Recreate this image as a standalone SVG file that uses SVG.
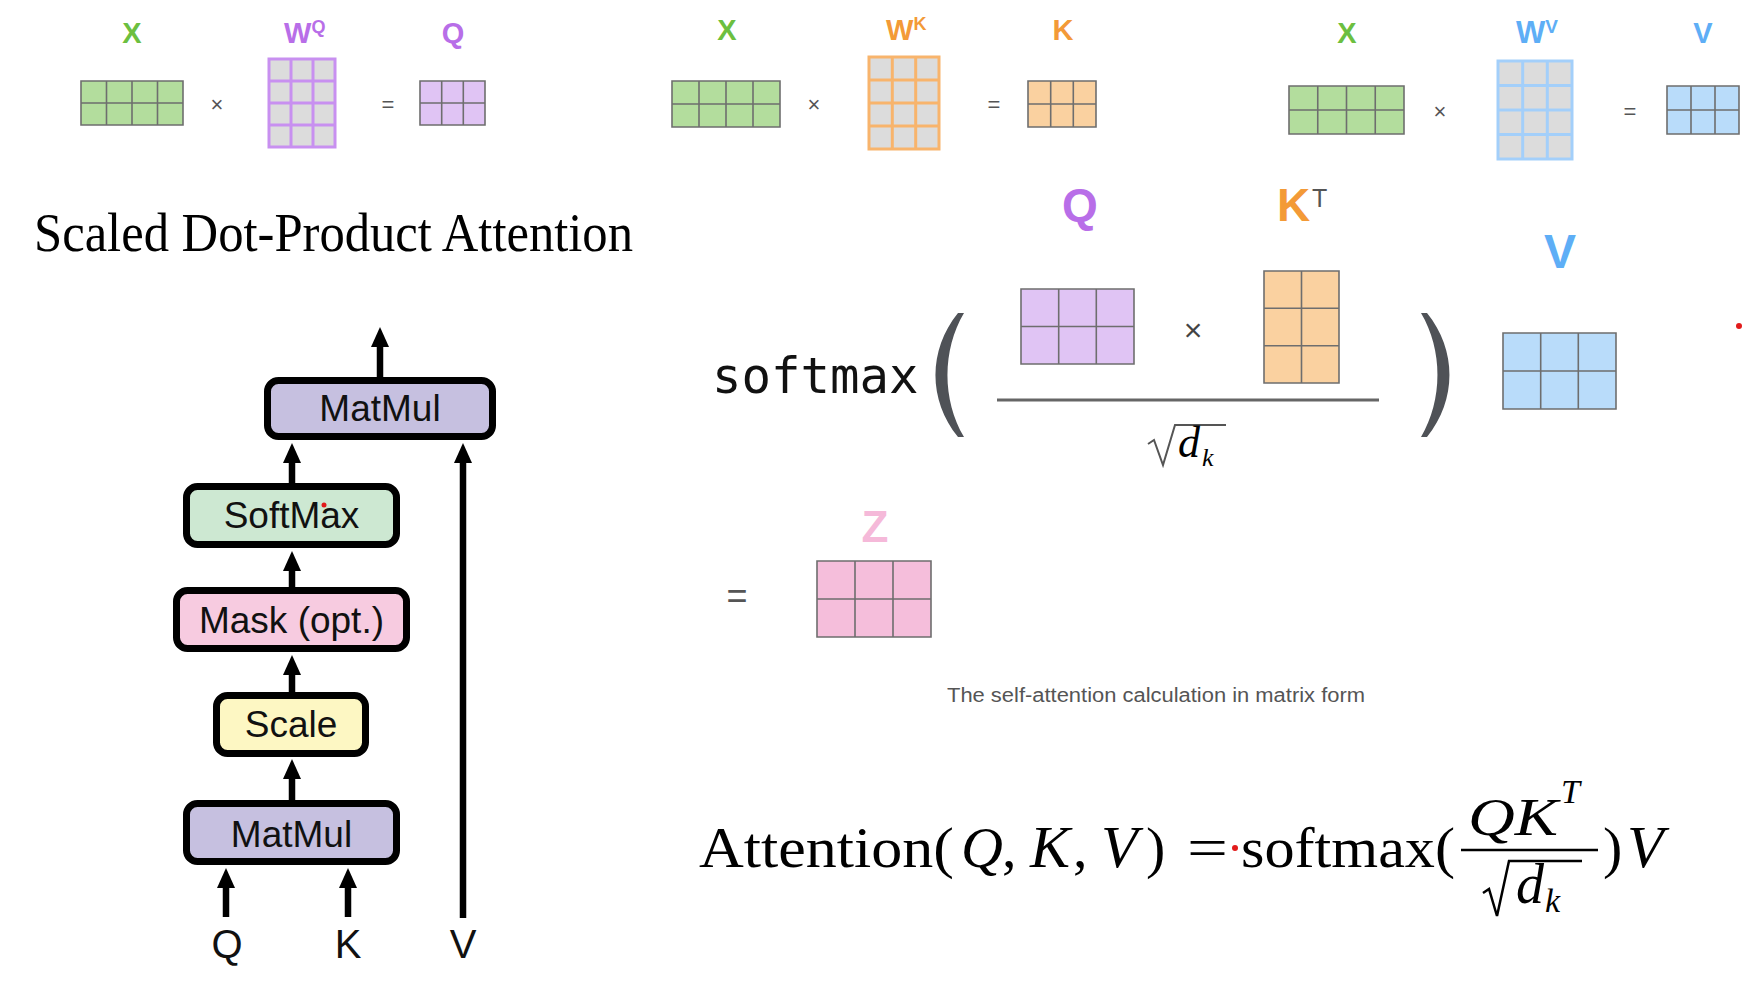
<svg xmlns="http://www.w3.org/2000/svg" width="1764" height="993" viewBox="0 0 1764 993">
<defs>
<style>
.lbl{font-family:"Liberation Sans",Arial,sans-serif;font-weight:bold;text-anchor:middle}
.sup{font-family:"Liberation Sans",Arial,sans-serif;font-weight:bold}
.op{font-family:"Liberation Sans",Arial,sans-serif;fill:#555;text-anchor:middle;font-size:22px}
.grid{stroke:#6e6e6e;stroke-width:1.6;fill:none}
.box{stroke:#000;stroke-width:7}
.btxt{font-family:"Liberation Sans",Arial,sans-serif;font-size:37px;fill:#111;text-anchor:middle}
.io{font-family:"Liberation Sans",Arial,sans-serif;font-size:40px;fill:#111;text-anchor:middle}
.cm{font-family:"Liberation Serif","Times New Roman",serif;fill:#000}
.it{font-style:italic}
.arr{stroke:#000;stroke-width:6.5;fill:none}
</style>
<marker id="ah" viewBox="0 0 20 18" refX="1" refY="9" markerWidth="20" markerHeight="18" markerUnits="userSpaceOnUse" orient="auto">
<path d="M0,0 L20,9 L0,18 z" fill="#000"/>
</marker>
</defs>
<rect width="1764" height="993" fill="#fff"/>

<!-- Top row: Q projection -->
<g id="proj-q">
<text class="lbl" x="132" y="43" font-size="29" fill="#6cbf40">X</text>
<rect x="81" y="81" width="102" height="44" fill="#b3dd9d"/>
<path class="grid" d="M81,81h102v44h-102z M106.5,81v44 M132,81v44 M157.5,81v44 M81,103h102"/>
<text class="op" x="217" y="112">×</text>
<text class="sup" x="284" y="43" font-size="29" fill="#b86ee8">W<tspan font-size="18" dy="-10">Q</tspan></text>
<rect x="269" y="59" width="66" height="88" fill="#dcdcdc"/>
<path d="M269,59h66v88h-66z M291,59v88 M313,59v88 M269,81h66 M269,103h66 M269,125h66" stroke="#c890f0" stroke-width="3" fill="none"/>
<text class="op" x="388" y="112">=</text>
<text class="lbl" x="453" y="43" font-size="29" fill="#b86ee8">Q</text>
<rect x="420" y="81" width="65" height="44" fill="#e0c4f4"/>
<path class="grid" d="M420,81h65v44h-65z M441.7,81v44 M463.3,81v44 M420,103h65"/>
</g>

<!-- Top row: K projection -->
<g id="proj-k">
<text class="lbl" x="727" y="40" font-size="29" fill="#6cbf40">X</text>
<rect x="672" y="81" width="108" height="46" fill="#b3dd9d"/>
<path class="grid" d="M672,81h108v46h-108z M699,81v46 M726,81v46 M753,81v46 M672,104h108"/>
<text class="op" x="814" y="112">×</text>
<text class="sup" x="886" y="40" font-size="29" fill="#f39a37">W<tspan font-size="18" dy="-10">K</tspan></text>
<rect x="869" y="57" width="70" height="92" fill="#dcdcdc"/>
<path d="M869,57h70v92h-70z M892.3,57v92 M915.7,57v92 M869,80h70 M869,103h70 M869,126h70" stroke="#f8b46c" stroke-width="3" fill="none"/>
<text class="op" x="994" y="112">=</text>
<text class="lbl" x="1063" y="40" font-size="29" fill="#f39a37">K</text>
<rect x="1028" y="81" width="68" height="46" fill="#fad1a0"/>
<path class="grid" d="M1028,81h68v46h-68z M1050.7,81v46 M1073.3,81v46 M1028,104h68"/>
</g>

<!-- Top row: V projection -->
<g id="proj-v">
<text class="lbl" x="1347" y="43" font-size="29" fill="#6cbf40">X</text>
<rect x="1289" y="86" width="115" height="48" fill="#b3dd9d"/>
<path class="grid" d="M1289,86h115v48h-115z M1317.75,86v48 M1346.5,86v48 M1375.25,86v48 M1289,110h115"/>
<text class="op" x="1440" y="119">×</text>
<text class="sup" x="1516" y="43" font-size="31" fill="#5eaef6">W<tspan font-size="19" dy="-10">V</tspan></text>
<rect x="1498" y="61" width="74" height="98" fill="#dcdcdc"/>
<path d="M1498,61h74v98h-74z M1522.7,61v98 M1547.3,61v98 M1498,85.5h74 M1498,110h74 M1498,134.5h74" stroke="#a3cffa" stroke-width="3" fill="none"/>
<text class="op" x="1630" y="119">=</text>
<text class="lbl" x="1703" y="43" font-size="29" fill="#5eaef6">V</text>
<rect x="1667" y="86" width="72" height="48" fill="#b9dcfa"/>
<path class="grid" d="M1667,86h72v48h-72z M1691,86v48 M1715,86v48 M1667,110h72"/>
</g>

<!-- Title -->
<text id="title" class="cm" x="34" y="251" font-size="55" textLength="599" lengthAdjust="spacingAndGlyphs">Scaled Dot-Product Attention</text>

<!-- Matrix-form softmax -->
<g id="softmax-matrix">
<text x="712" y="393" font-family="'DejaVu Sans Mono',monospace" font-size="49" fill="#111">softmax</text>
<path d="M958,313 C928,350 928,400 958,437 L964,437 C942,400 942,350 964,313 Z" fill="#4f5257"/>
<path d="M1427,313 C1457,350 1457,400 1427,437 L1421,437 C1443,400 1443,350 1421,313 Z" fill="#4f5257"/>
<text class="lbl" x="1080" y="221" font-size="46" fill="#b86ee8">Q</text>
<rect x="1021" y="289" width="113" height="75" fill="#e0c4f4"/>
<path class="grid" d="M1021,289h113v75h-113z M1058.7,289v75 M1096.3,289v75 M1021,326.5h113"/>
<text x="1193" y="341" font-family="'Liberation Sans',Arial,sans-serif" font-size="32" fill="#444" text-anchor="middle">×</text>
<text class="sup" x="1277" y="221" font-size="46" fill="#f39a37">K</text>
<text x="1312" y="207" font-family="'Liberation Sans',Arial,sans-serif" font-size="25" fill="#555">T</text>
<rect x="1264" y="271" width="75" height="112" fill="#fad1a0"/>
<path class="grid" d="M1264,271h75v112h-75z M1301.5,271v112 M1264,308.3h75 M1264,345.7h75"/>
<line x1="997" y1="400" x2="1379" y2="400" stroke="#666" stroke-width="3"/>
<path d="M1148,444 L1154,440 L1163,465 L1175,425 L1226,425" stroke="#555" stroke-width="2" fill="none"/>
<text class="cm it" x="1178" y="457" font-size="44" fill="#555">d</text>
<text class="cm it" x="1202" y="466" font-size="26" fill="#555">k</text>
<text class="lbl" x="1560" y="268" font-size="48" fill="#5eaef6">V</text>
<rect x="1503" y="333" width="113" height="76" fill="#b9dcfa"/>
<path class="grid" d="M1503,333h113v76h-113z M1540.7,333v76 M1578.3,333v76 M1503,371h113"/>
<circle cx="1739" cy="326" r="3" fill="#e21b1b"/>
</g>

<!-- Result Z -->
<g id="result-z">
<text x="737" y="608" font-family="'Liberation Sans',Arial,sans-serif" font-size="36" fill="#555" text-anchor="middle">=</text>
<text class="lbl" x="875" y="542" font-size="44" fill="#f5b9d9">Z</text>
<rect x="817" y="561" width="114" height="76" fill="#f5bedb"/>
<path class="grid" d="M817,561h114v76h-114z M855,561v76 M893,561v76 M817,599h114"/>
<text x="947" y="702" font-family="'Liberation Sans',Arial,sans-serif" font-size="20" fill="#555" textLength="418" lengthAdjust="spacingAndGlyphs">The self-attention calculation in matrix form</text>
</g>

<!-- Attention formula -->
<g id="formula">
<text class="cm" x="699" y="867" font-size="58" textLength="255" lengthAdjust="spacingAndGlyphs">Attention(</text>
<text class="cm it" x="961" y="867" font-size="58">Q</text>
<text class="cm" x="1002" y="867" font-size="58">,</text>
<text class="cm it" x="1030" y="867" font-size="60">K</text>
<text class="cm" x="1073" y="867" font-size="58">,</text>
<text class="cm it" x="1101" y="867" font-size="60">V</text>
<text class="cm" x="1146" y="867" font-size="58">)</text>
<text class="cm" x="1187" y="867" font-size="58" textLength="41" lengthAdjust="spacingAndGlyphs">=</text>
<circle cx="1235" cy="848" r="3" fill="#e21b1b"/>
<text class="cm" x="1241" y="867" font-size="58" textLength="214" lengthAdjust="spacingAndGlyphs">softmax(</text>
<text class="cm it" x="1468" y="835" font-size="52" textLength="90" lengthAdjust="spacingAndGlyphs">QK</text>
<text class="cm it" x="1561" y="803" font-size="34">T</text>
<line x1="1461" y1="850" x2="1598" y2="850" stroke="#000" stroke-width="2.5"/>
<path d="M1483,893 L1489,889 L1497,916 L1509,861 L1582,861" stroke="#000" stroke-width="2.5" fill="none"/>
<text class="cm it" x="1516" y="903" font-size="56">d</text>
<text class="cm it" x="1545" y="912" font-size="34">k</text>
<text class="cm" x="1603" y="867" font-size="58">)</text>
<text class="cm it" x="1627" y="867" font-size="60">V</text>
</g>

<!-- Scaled dot-product attention diagram nodes -->
<g id="node-matmul-top">
<rect class="box" x="267.5" y="380.5" width="225" height="56" rx="11" fill="#c6c0e0"/>
<text class="btxt" x="380" y="421">MatMul</text>
</g>
<g id="node-softmax">
<rect class="box" x="186.5" y="486.5" width="210" height="58" rx="11" fill="#cde8d2"/>
<text class="btxt" x="291.5" y="528">SoftMax</text>
<circle cx="324" cy="505" r="2.5" fill="#e21b1b"/>
</g>
<g id="node-mask">
<rect class="box" x="176.5" y="590.5" width="230" height="58" rx="11" fill="#f7cbe0"/>
<text class="btxt" x="291.5" y="633">Mask (opt.)</text>
</g>
<g id="node-scale">
<rect class="box" x="216.5" y="695.5" width="149" height="58" rx="11" fill="#fdf7c3"/>
<text class="btxt" x="291" y="737">Scale</text>
</g>
<g id="node-matmul-bottom">
<rect class="box" x="186.5" y="803.5" width="210" height="58" rx="11" fill="#c6c0e0"/>
<text class="btxt" x="291.5" y="847">MatMul</text>
</g>
<g id="inputs">
<text class="io" x="227" y="958">Q</text>
<text class="io" x="348" y="958">K</text>
<text class="io" x="463" y="958">V</text>
</g>

<g id="connectors">
<line class="arr" x1="380" y1="377" x2="380" y2="346" marker-end="url(#ah)"/>
<line class="arr" x1="292" y1="483" x2="292" y2="462" marker-end="url(#ah)"/>
<line class="arr" x1="292" y1="587" x2="292" y2="570" marker-end="url(#ah)"/>
<line class="arr" x1="292" y1="692" x2="292" y2="674" marker-end="url(#ah)"/>
<line class="arr" x1="292" y1="800" x2="292" y2="778" marker-end="url(#ah)"/>
<line class="arr" x1="226" y1="917" x2="226" y2="887" marker-end="url(#ah)"/>
<line class="arr" x1="348" y1="917" x2="348" y2="887" marker-end="url(#ah)"/>
<line class="arr" x1="463" y1="918" x2="463" y2="462" marker-end="url(#ah)"/>
</g>
</svg>
